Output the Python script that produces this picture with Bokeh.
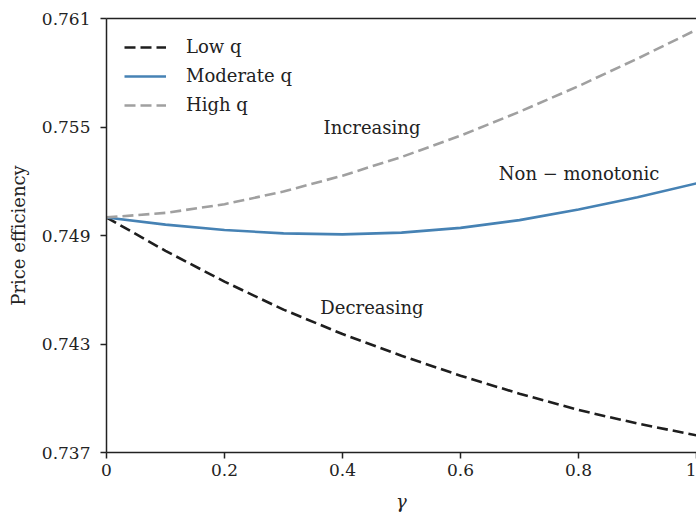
from bokeh.plotting import figure
from bokeh.models import (Range1d, FixedTicker, LinearAxis, Label, Legend, LegendItem)
from bokeh.embed import file_html
from bokeh.resources import INLINE

# Price efficiency as a function of gamma for three levels of q
gamma = [0.0, 0.1, 0.2, 0.3, 0.4, 0.5, 0.6, 0.7, 0.8, 0.9, 1.0]
low_q = [0.75000, 0.74815, 0.74645, 0.74490, 0.74355, 0.74235,
         0.74125, 0.74025, 0.73935, 0.73860, 0.73795]
moderate_q = [0.75000, 0.74960, 0.74930, 0.74912, 0.74906, 0.74916,
              0.74942, 0.74985, 0.75044, 0.75112, 0.75188]
high_q = [0.75000, 0.75025, 0.75073, 0.75143, 0.75231, 0.75334,
          0.75452, 0.75584, 0.75726, 0.75878, 0.76038]

x_ticks = [0, 0.2, 0.4, 0.6, 0.8, 1]
x_tick_labels = ["0", "0.2", "0.4", "0.6", "0.8", "1"]
y_ticks = [0.737, 0.743, 0.749, 0.755, 0.761]
y_tick_labels = ["0.737", "0.743", "0.749", "0.755", "0.761"]

FONT = "DejaVu Serif"
TEXT = "#222222"

p = figure(width=696, height=518, output_backend="svg", toolbar_location=None,
           x_range=Range1d(0, 1), y_range=Range1d(0.737, 0.761),
           min_border_left=106, min_border_right=0,
           min_border_top=18, min_border_bottom=66)
p.grid.visible = False
p.outline_line_color = None
p.background_fill_color = "white"
p.border_fill_color = "white"

r_low = p.line(gamma, low_q, line_color="#1e1e1e", line_width=2.6, line_dash="11 5")
r_mod = p.line(gamma, moderate_q, line_color="#4682b4", line_width=2.6)
r_high = p.line(gamma, high_q, line_color="#a0a0a0", line_width=2.6, line_dash="11 5")

def style_axis(ax):
    ax.axis_line_color = "#222222"
    ax.axis_line_width = 1.5
    ax.major_tick_line_color = "#222222"
    ax.major_tick_line_width = 1.5
    ax.major_tick_out = 6
    ax.major_tick_in = 0
    ax.minor_tick_line_color = None
    ax.major_label_text_font = FONT
    ax.major_label_text_font_size = "17px"
    ax.major_label_text_color = TEXT
    ax.axis_label_text_font = FONT
    ax.axis_label_text_font_size = "18px"
    ax.axis_label_text_color = TEXT

xa = p.xaxis[0]
style_axis(xa)
xa.ticker = FixedTicker(ticks=x_ticks)
xa.major_label_overrides = dict(zip(x_ticks, x_tick_labels))
xa.major_label_standoff = 5
xa.axis_label = "γ"
xa.axis_label_text_font_style = "italic"
xa.axis_label_standoff = 12

ya = p.yaxis[0]
style_axis(ya)
ya.ticker = FixedTicker(ticks=y_ticks)
ya.major_label_overrides = dict(zip(y_ticks, y_tick_labels))
ya.major_label_standoff = 10
ya.axis_label = "Price efficiency"
ya.axis_label_text_font_style = "normal"
ya.axis_label_standoff = 10

# top spine
top = LinearAxis(ticker=FixedTicker(ticks=[]), axis_line_color="#222222",
                 axis_line_width=1.5, major_tick_line_color=None,
                 minor_tick_line_color=None, major_label_text_font_size="0px")
p.add_layout(top, "above")

legend = Legend(items=[LegendItem(label="Low q", renderers=[r_low]),
                       LegendItem(label="Moderate q", renderers=[r_mod]),
                       LegendItem(label="High q", renderers=[r_high])],
                location="top_left", margin=18, padding=6, spacing=8,
                glyph_width=42, glyph_height=20, label_height=20,
                label_standoff=20, label_text_font=FONT,
                label_text_font_size="18px", label_text_color=TEXT,
                background_fill_alpha=0, border_line_color=None)
p.add_layout(legend)

for txt, gx, gy in [("Increasing", 0.45, 0.7550),
                    ("Non \u2212 monotonic", 0.801, 0.75243),
                    ("Decreasing", 0.45, 0.7450)]:
    p.add_layout(Label(x=gx, y=gy, text=txt, text_align="center",
                       text_baseline="middle", text_font=FONT,
                       text_font_size="18px", text_color=TEXT))

open("out.html", "w").write(file_html(p, INLINE))
